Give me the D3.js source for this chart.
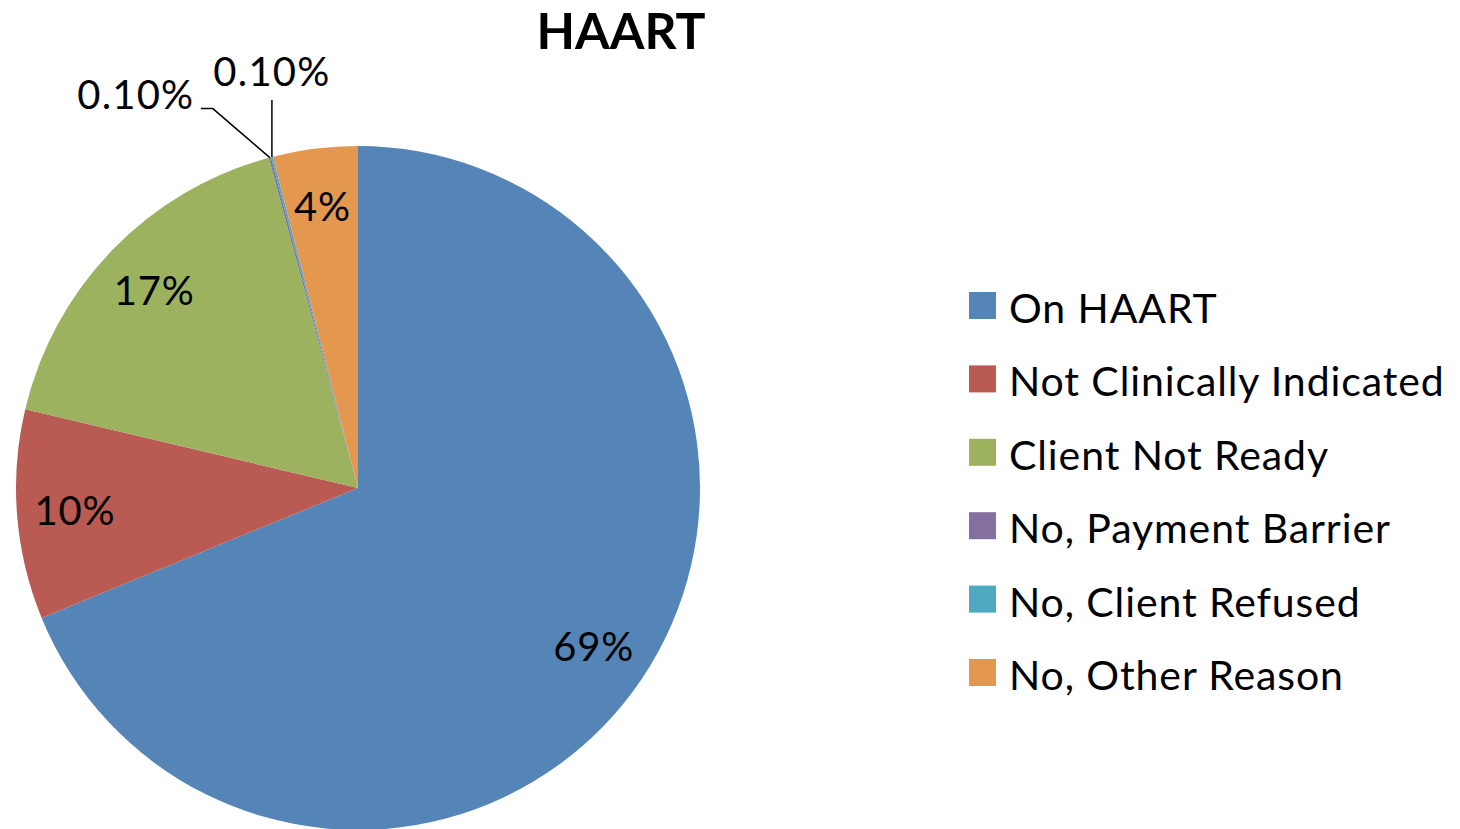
<!DOCTYPE html>
<html>
<head>
<meta charset="utf-8">
<script src="https://cdn.jsdelivr.net/npm/d3@7"></script>
<style>
  html, body { margin: 0; padding: 0; background: #fff; }
  svg { display: block; }
</style>
</head>
<body>
<svg id="chart" width="1460" height="829"></svg>
<script>
const title = "HAART";
const categories = ["On HAART", "Not Clinically Indicated", "Client Not Ready", "No, Payment Barrier", "No, Client Refused", "No, Other Reason"];
const values = [0.688, 0.099, 0.171, 0.001, 0.001, 0.040];
const colors = ["#5585B7", "#B95A53", "#9CB25E", "#8470A0", "#4FA9C0", "#E3974F"];

const W = 1460, H = 829;
const cx = 358, cy = 488, R = 342;
const svg = d3.select("#chart");
const FONT = "Lato, 'Open Sans', sans-serif";

svg.append("text")
  .attr("x", 621).attr("y", 49)
  .attr("text-anchor", "middle")
  .attr("font-family", FONT)
  .attr("font-weight", "bold")
  .attr("font-size", 50)
  .attr("fill", "#000")
  .text(title);

const data = categories.map((c, i) => ({ name: c, value: values[i], color: colors[i] }));
const pie = d3.pie().sort(null).value(d => d.value).startAngle(0).endAngle(2 * Math.PI);
const arcs = pie(data);
const arc = d3.arc().innerRadius(0).outerRadius(R);
const labelArc = d3.arc().innerRadius(R * 0.83).outerRadius(R * 0.83);

const g = svg.append("g").attr("transform", `translate(${cx},${cy})`);
g.selectAll("path.slice").data(arcs).join("path")
  .attr("class", "slice")
  .attr("d", arc)
  .attr("fill", d => d.data.color);

const fmt = v => v >= 0.01 ? d3.format(".0%")(v) : d3.format(".2%")(v);

// Large slice labels inside
arcs.filter(d => d.data.value >= 0.01).forEach(d => {
  const [x, y] = labelArc.centroid(d);
  g.append("text")
    .attr("x", x).attr("y", y)
    .attr("text-anchor", "middle")
    .attr("dominant-baseline", "central")
    .attr("font-family", FONT)
    .attr("font-size", 40)
    .attr("letter-spacing", 0.8)
    .attr("fill", "#000")
    .text(fmt(d.data.value));
});

// Small slice labels outside with leader lines (layout offsets relative to slice edge point)
const smallLayout = [
  { lx: -134, ly: -49, path: [[-57, -49], [-69, -49]] },
  { lx: 0, ly: -71, path: [[0, -57]] }
];
const small = arcs.filter(d => d.data.value < 0.01);
small.forEach((d, i) => {
  const mid = (d.startAngle + d.endAngle) / 2;
  const ex = R * Math.sin(mid), ey = -R * Math.cos(mid);
  const L = smallLayout[i];
  const pts = [[ex, ey]].concat(L.path.map(p => [ex + p[0], ey + p[1]]));
  g.append("path")
    .attr("d", d3.line()(pts))
    .attr("fill", "none")
    .attr("stroke", "#000")
    .attr("stroke-width", 1.5);
  g.append("text")
    .attr("x", ex + L.lx).attr("y", ey + L.ly)
    .attr("text-anchor", "middle")
    .attr("font-family", FONT)
    .attr("font-size", 40)
    .attr("letter-spacing", 1.2)
    .attr("fill", "#000")
    .text(fmt(d.data.value));
});

// Legend
const legend = svg.append("g").attr("transform", "translate(969,292)");
const step = 73.4;
const items = legend.selectAll("g").data(data).join("g")
  .attr("transform", (d, i) => `translate(0,${i * step})`);
items.append("rect")
  .attr("width", 27).attr("height", 27)
  .attr("fill", d => d.color);
items.append("text")
  .attr("x", 40).attr("y", 31)
  .attr("font-family", FONT)
  .attr("font-size", 41)
  .attr("letter-spacing", 0.9)
  .attr("fill", "#000")
  .text(d => d.name);
</script>
</body>
</html>
